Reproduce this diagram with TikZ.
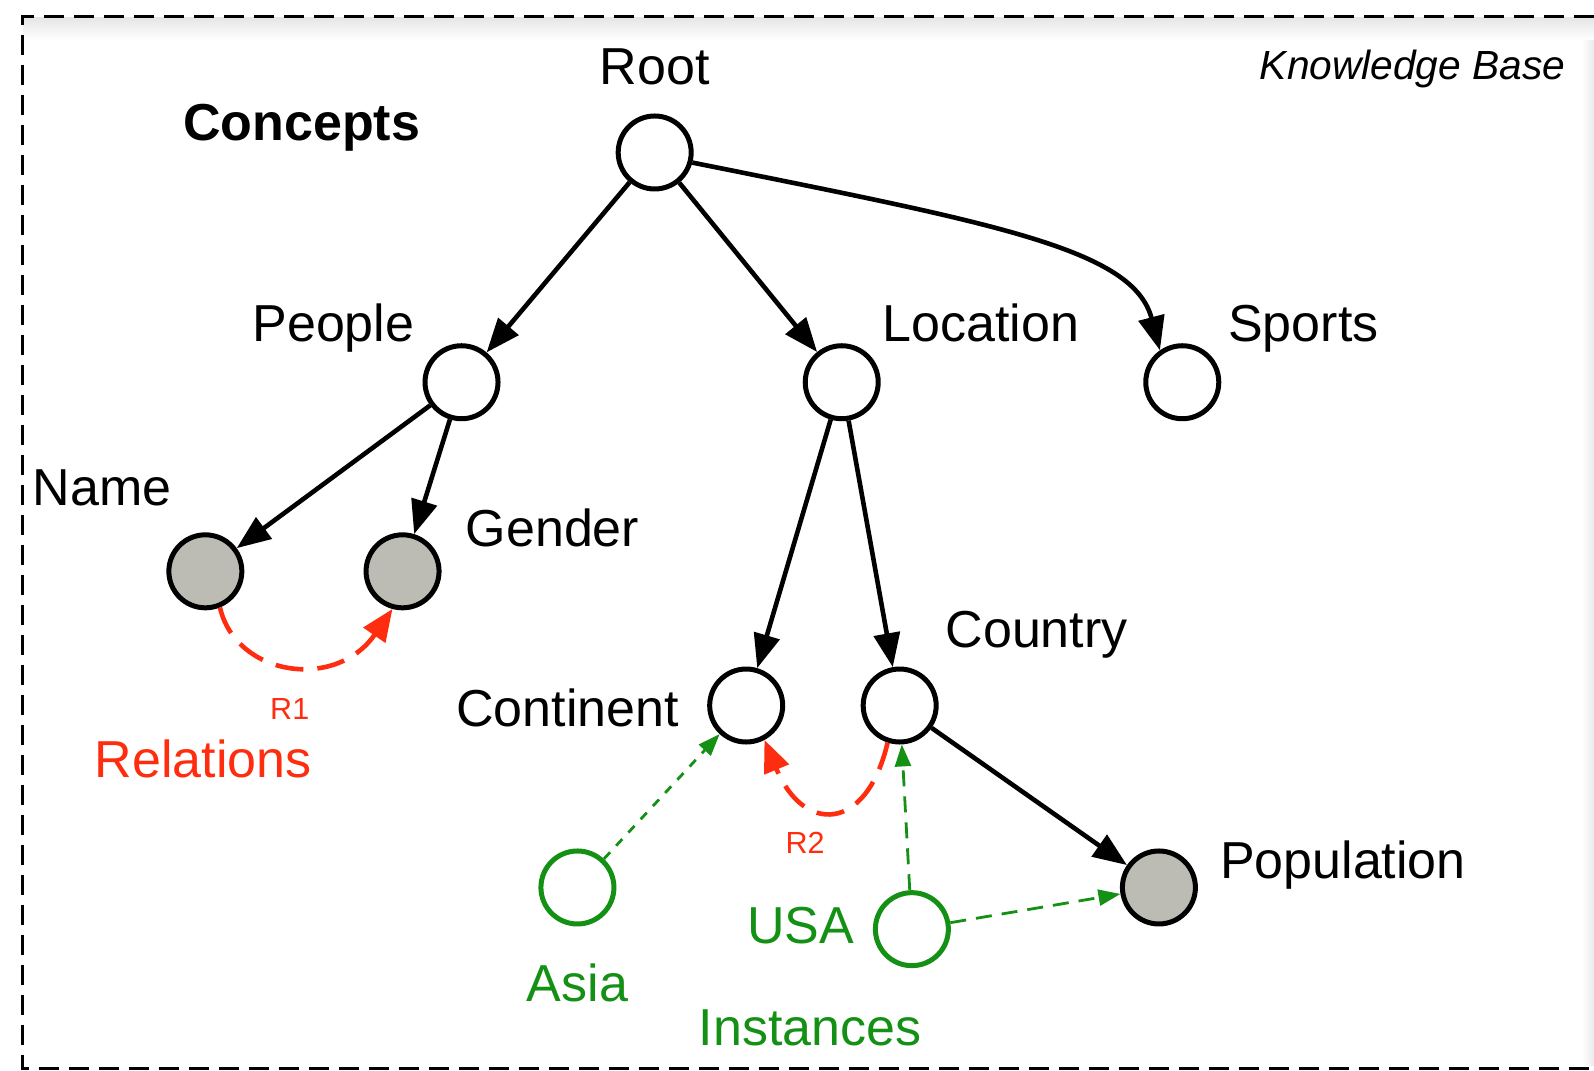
\documentclass[tikz,border=0pt]{standalone}
\usepackage{fontspec}
\setmainfont{Liberation Sans}
\usetikzlibrary{arrows.meta}
\definecolor{kbred}{RGB}{255,45,15}
\definecolor{kbgreen}{RGB}{20,145,20}
\definecolor{kbgray}{RGB}{188,188,180}
\begin{document}
\begin{tikzpicture}[x=1.0166pt,y=-1.0166pt,
  conc/.style={circle, draw=black, line width=5pt, minimum size=73pt, inner sep=0pt, fill=white},
  attr/.style={conc, fill=kbgray},
  inst/.style={conc, draw=kbgreen},
  lbl/.style={inner sep=0pt, font=\fontsize{52}{60}\selectfont},
  glbl/.style={lbl, text=kbgreen},
  rlbl/.style={lbl, text=kbred},
  edge/.style={draw=black, line width=4.6pt, -{Triangle[length=34pt,width=26pt]}},
  rel/.style={draw=kbred, line width=4.6pt, dash pattern=on 28pt off 14pt, -{Triangle[length=32pt,width=26pt]}},
  instarrow/.style={draw=kbgreen, line width=2.8pt, dash pattern=on 16pt off 10pt, -{Triangle[length=22pt,width=16pt]}},
  instdot/.style={draw=kbgreen, line width=2.8pt, dash pattern=on 9pt off 9pt, -{Triangle[length=22pt,width=16pt]}}
]
\useasboundingbox (0,0) rectangle (1568,1053);
% frame
\fill[top color=black!10, bottom color=white] (23,17) rectangle (1568,40);
\fill[left color=white, right color=black!8] (1556,40) rectangle (1568,1048);
\draw[line width=2.5pt, dash pattern=on 20pt off 10pt] (1568,16) -- (22,16) -- (22,1051) -- (1568,1051);

% nodes
\node[conc] (root) at (644,150) {};
\node[conc] (people) at (454,376) {};
\node[conc] (location) at (828,376) {};
\node[conc] (sports) at (1163,376) {};
\node[attr] (name) at (202,562) {};
\node[attr] (gender) at (396,562) {};
\node[conc] (continent) at (734,694) {};
\node[conc] (country) at (885,694) {};
\node[attr] (population) at (1140,873) {};
\node[inst] (asia) at (568,873) {};
\node[inst] (usa) at (897,914) {};

% labels
\node[lbl, anchor=base] (lroot) at (644,83) {Root};
\node[lbl, anchor=base west, font=\fontsize{52}{60}\selectfont\bfseries] (lconcepts) at (180,138) {Concepts};
\node[inner sep=0pt, anchor=base east, font=\fontsize{40.7}{48}\selectfont\itshape] (lkb) at (1540,78) {Knowledge Base};
\node[lbl, anchor=base] (lpeople) at (328,336) {People};
\node[lbl, anchor=base west] (llocation) at (868,336) {Location};
\node[lbl, anchor=base west] (lsports) at (1208,336) {Sports};
\node[lbl, anchor=base west] (lname) at (32,497) {Name};
\node[lbl, anchor=base west] (lgender) at (458,538) {Gender};
\node[lbl, anchor=base west] (lcountry) at (930,637) {Country};
\node[lbl, anchor=base east] (lcontinent) at (668,715) {Continent};
\node[lbl, anchor=base west] (lpopulation) at (1200,864) {Population};
\node[glbl, anchor=base west] (lusa) at (735,928) {USA};
\node[glbl, anchor=base] (lasia) at (568,985) {Asia};
\node[glbl, anchor=base] (linstances) at (797,1028) {Instances};
\node[inner sep=0pt, anchor=base, text=kbred, font=\fontsize{30.5}{36}\selectfont] (lr1) at (285,708) {R1};
\node[rlbl, anchor=base] (lrelations) at (200,765) {Relations};
\node[inner sep=0pt, anchor=base, text=kbred, font=\fontsize{30.5}{36}\selectfont] (lr2) at (792,840) {R2};

% concept edges
\draw[edge] (root) -- (people);
\draw[edge] (root) -- (location);
\draw[edge] (root.-15) .. controls (980,220) and (1115,245) .. (sports.125);
\draw[edge] (people) -- (name);
\draw[edge] (people) -- (gender);
\draw[edge] (location) -- (continent);
\draw[edge] (location) -- (country);
\draw[edge] (country) -- (population);

% relations
\draw[rel] (name.-68) .. controls (232,665) and (330,680) .. (gender.-105);
\draw[rel] (country.-108) .. controls (852,820) and (790,820) .. (continent.-62);

% instances
\draw[instdot] (asia) -- (continent);
\draw[instarrow] (usa) -- (country);
\draw[instarrow] (usa) -- (population);
\end{tikzpicture}
\end{document}
